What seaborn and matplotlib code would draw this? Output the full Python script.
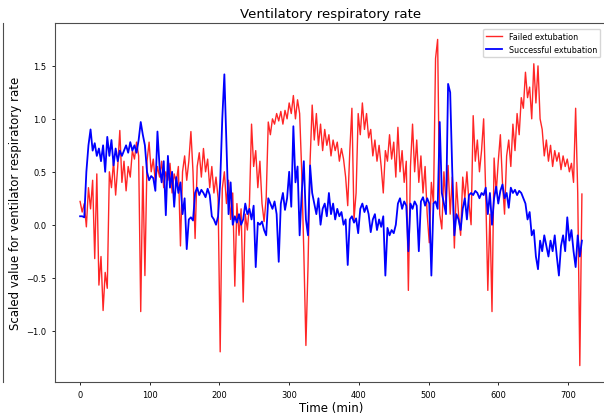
import matplotlib
matplotlib.use("Agg")
import matplotlib.pyplot as plt
from matplotlib.lines import Line2D
import numpy as np
import pandas as pd
import seaborn as sns

time_min = list(range(0, 721, 3))

failed = [
    0.22, 0.12, 0.20, -0.02, 0.35, 0.15, 0.42, -0.32, 0.48, -0.57,
    -0.30, -0.81, -0.45, -0.60, 0.50, 0.35, 0.60, 0.28, 0.55, 0.89,
    0.40, 0.60, 0.32, 0.55, 0.45, 0.70, 0.62, 0.78, 0.65, -0.82,
    0.55, -0.48, 0.60, 0.78, 0.50, 0.62, 0.40, 0.55, 0.45, 0.60,
    0.35, 0.50, 0.42, 0.58, 0.30, 0.48, 0.40, 0.55, -0.20, 0.50,
    0.65, 0.42, 0.60, 0.88, 0.50, -0.13, 0.55, 0.68, 0.45, 0.72,
    0.50, 0.62, 0.35, 0.55, 0.30, 0.45, 0.25, -1.20, 0.34, 0.50,
    0.20, 0.42, 0.05, 0.30, -0.58, 0.20, -0.10, 0.15, -0.73, 0.10,
    -0.05, 0.20, 0.95, 0.55, 0.70, 0.35, 0.60, 0.20, 0.03, 0.25,
    0.97, 0.85, 1.00, 0.95, 1.05, 0.98, 1.07, 0.95, 1.08, 1.00,
    1.15, 1.05, 1.22, 1.00, 1.18, 1.05, 0.50, -0.26, -1.14, -0.40,
    0.60, 1.13, 0.80, 1.05, 0.75, 0.95, 0.70, 0.90, 0.75, 0.85,
    0.65, 0.80, 0.70, 0.78, 0.60, 0.72, 0.62, 0.45, 0.18, 0.70,
    1.10, 0.05, 0.30, 1.05, 0.85, 1.15, 0.90, 1.05, 0.82, 0.90,
    0.65, 0.80, 0.60, 0.75, 0.55, 0.30, 0.70, 0.60, 0.85, 0.62,
    0.78, 0.45, 0.92, 0.50, 0.70, 0.40, 0.60, -0.62, 0.55, 0.95,
    0.50, 0.80, 0.40, 0.65, 0.30, 0.55, 0.10, -0.17, 0.40, 0.20,
    1.57, 1.75, 0.10, -0.04, 0.50, 0.20, 0.56, 0.10, 0.45, -0.22,
    0.40, 0.10, -0.10, 0.45, 0.25, 0.50, 0.20, 0.00, 1.03, 0.60,
    0.80, 0.50, 0.70, 1.00, 0.30, -0.62, 0.10, -0.82, 0.63, 0.30,
    0.60, 0.85, 0.40, 0.10, 0.65, 0.80, 0.55, 0.95, 0.70, 1.05,
    0.85, 1.20, 1.10, 1.44, 1.20, 1.30, 1.00, 1.52, 1.15, 1.50,
    1.00, 0.90, 0.65, 0.80, 0.60, 0.75, 0.55, 0.70, 0.60, 0.68,
    0.52, 0.65, 0.55, 0.62, 0.50, 0.58, 0.40, 1.10, 0.30, -1.33,
    0.29,
]

successful = [
    0.08, 0.08, 0.07, 0.50, 0.75, 0.90, 0.70, 0.77, 0.65, 0.72,
    0.60, 0.75, 0.50, 0.83, 0.65, 0.80, 0.56, 0.72, 0.60, 0.70,
    0.65, 0.70, 0.75, 0.68, 0.78, 0.70, 0.75, 0.68, 0.80, 0.97,
    0.85, 0.75, 0.50, 0.42, 0.46, 0.44, 0.32, 0.88, 0.55, 0.40,
    0.60, 0.09, 0.65, 0.35, 0.50, 0.17, 0.45, 0.30, 0.40, 0.10,
    0.25, -0.23, 0.05, 0.07, 0.04, 0.30, 0.35, 0.28, 0.33, 0.30,
    0.26, 0.34, 0.28, 0.08, 0.05, 0.00, 0.08, 0.40, 1.00, 1.42,
    0.75, 0.10, 0.40, 0.00, 0.08, 0.02, 0.10, 0.00, 0.05, 0.20,
    0.10, 0.15, 0.05, 0.18, -0.40, 0.02, 0.00, 0.03, -0.05, -0.10,
    0.25, 0.20, 0.15, 0.22, 0.10, -0.35, 0.20, 0.30, 0.14, 0.25,
    0.50, 0.17, 0.93, 0.40, 0.55, -0.10, 0.30, 0.60, 0.05, -0.10,
    0.56, 0.30, 0.20, 0.10, 0.25, 0.00, 0.15, 0.20, 0.08, 0.30,
    0.10, 0.20, 0.05, 0.15, 0.08, 0.12, 0.00, 0.05, -0.38, 0.05,
    0.08, 0.02, 0.06, -0.08, 0.15, 0.20, 0.12, 0.18, 0.10, -0.07,
    0.05, 0.10, -0.05, 0.05, -0.02, 0.08, -0.48, -0.03, -0.10, -0.05,
    -0.08, 0.00, 0.20, 0.25, 0.15, 0.22, 0.18, -0.25, 0.20, 0.15,
    0.22, 0.18, -0.25, 0.22, 0.26, 0.18, 0.25, 0.20, -0.48, 0.20,
    0.22, 0.15, 0.97, 0.30, 0.20, 0.10, 1.33, 1.25, 0.50, -0.10,
    0.10, 0.05, -0.05, 0.15, 0.25, 0.05, 0.28, 0.30, 0.28, 0.32,
    0.30, 0.25, 0.30, 0.28, 0.35, 0.10, 0.30, 0.00, 0.25, 0.36,
    0.20, 0.32, 0.38, 0.25, 0.30, 0.16, 0.35, 0.30, 0.33, 0.28,
    0.32, 0.30, 0.25, 0.20, 0.05, 0.12, -0.10, -0.05, -0.30, -0.42,
    -0.15, -0.25, -0.10, -0.20, -0.30, -0.15, -0.25, -0.10, -0.30, -0.48,
    -0.20, -0.10, -0.25, 0.07, -0.15, -0.05, -0.25, -0.40, -0.10, -0.30,
    -0.15,
]

df_failed = pd.DataFrame({"Time (min)": time_min, "value": failed})
df_succ = pd.DataFrame({"Time (min)": time_min, "value": successful})

fig = plt.figure(figsize=(6.04, 4.14), dpi=100)
ax = fig.add_axes([55 / 604, 31 / 414, 552 / 604, 359 / 414])

sns.lineplot(data=df_failed, x="Time (min)", y="value", ax=ax, color="red",
             alpha=0.85, linewidth=1.0, label="Failed extubation")
sns.lineplot(data=df_succ, x="Time (min)", y="value", ax=ax, color="blue",
             linewidth=1.3, label="Successful extubation")

ax.set_xlim(-36, 756)
ax.set_ylim(-1.485, 1.905)
ax.set_xticks([0, 100, 200, 300, 400, 500, 600, 700])
ax.set_yticks([-1.0, -0.5, 0.0, 0.5, 1.0, 1.5])
ax.tick_params(labelsize=6, length=2.5, width=0.6)
ax.set_title("Ventilatory respiratory rate", fontsize=9.5, pad=4)
ax.set_xlabel("Time (min)", fontsize=8.5, labelpad=1)
ax.set_ylabel("Scaled value for ventilator respiratory rate", fontsize=8.5, labelpad=3)
for s in ax.spines.values():
    s.set_linewidth(0.8)
    s.set_color("0.3")
leg = ax.legend(loc="upper right", fontsize=5.8, frameon=True, borderpad=0.4,
                handlelength=2.0, bbox_to_anchor=(0.995, 0.995))

fig.add_artist(Line2D([3 / 604, 3 / 604], [31 / 414, 390 / 414],
                      transform=fig.transFigure, color="0.3", linewidth=0.8))

fig.savefig("out.png", dpi=100)
